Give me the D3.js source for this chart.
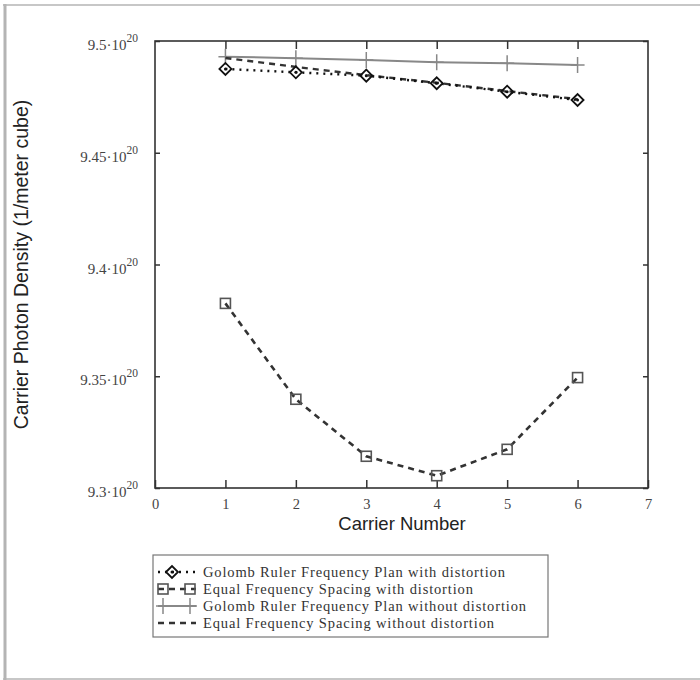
<!DOCTYPE html>
<html>
<head>
<meta charset="utf-8">
<script src="https://cdn.jsdelivr.net/npm/d3@7"></script>
<style>
  html, body { margin: 0; padding: 0; background: #fff; }
  svg { display: block; }
</style>
</head>
<body>
<svg id="chart" width="700" height="680"></svg>
<script>
// Carrier index on the x axis
const carriers = [1, 2, 3, 4, 5, 6];

// Photon density, in units of 10^20 per cubic meter
const golombWithDistortion = [9.4875, 9.4860, 9.4845, 9.4811, 9.4773, 9.4736];
const equalWithDistortion = [9.3826, 9.3397, 9.3142, 9.3055, 9.3173, 9.3494];
const golombWithoutDistortion = [9.4930, 9.4923, 9.4915, 9.4905, 9.4900, 9.4893];
const equalWithoutDistortion = [9.4924, 9.4884, 9.4847, 9.4813, 9.4776, 9.4740];

// Axis ticks
const xTicks = [0, 1, 2, 3, 4, 5, 6, 7];
const yTicks = [9.3, 9.35, 9.4, 9.45, 9.5];
const yTickText = ["9.3", "9.35", "9.4", "9.45", "9.5"];

const legendLabels = [
  "Golomb Ruler Frequency Plan with distortion",
  "Equal Frequency Spacing with distortion",
  "Golomb Ruler Frequency Plan without distortion",
  "Equal Frequency Spacing without distortion"
];

const svg = d3.select("#chart");

// outer frame (top, left, bottom edges)
const frameGray = "#b4b4b4";
svg.append("line").attr("x1", 3).attr("x2", 700).attr("y1", 5).attr("y2", 5)
  .attr("stroke", frameGray).attr("stroke-width", 1.5);
svg.append("line").attr("x1", 5).attr("x2", 5).attr("y1", 4).attr("y2", 680)
  .attr("stroke", frameGray).attr("stroke-width", 3);
svg.append("line").attr("x1", 3).attr("x2", 700).attr("y1", 679).attr("y2", 679)
  .attr("stroke", frameGray).attr("stroke-width", 1.5);

const plot = { left: 155, right: 648, top: 41, bottom: 488 };

const x = d3.scaleLinear().domain([0, 7]).range([plot.left, plot.right]);
const y = d3.scaleLinear().domain([9.3, 9.5]).range([plot.bottom, plot.top]);

const frameColor = "#333";
const serif = "'Liberation Serif', 'Times New Roman', serif";
const sans = "'Liberation Sans', Arial, sans-serif";

// ticks on all four sides, pointing inward
const gBottom = svg.append("g").attr("transform", `translate(0,${plot.bottom})`)
  .call(d3.axisBottom(x).tickValues(xTicks).tickFormat(d3.format("d"))
    .tickSizeInner(-8).tickSizeOuter(0).tickPadding(11));
const gTop = svg.append("g").attr("transform", `translate(0,${plot.top})`)
  .call(d3.axisTop(x).tickValues(xTicks.slice(1, -1)).tickSizeInner(-8).tickSizeOuter(0).tickFormat(""));
const gLeft = svg.append("g").attr("transform", `translate(${plot.left},0)`)
  .call(d3.axisLeft(y).tickValues(yTicks).tickSizeInner(-5).tickSizeOuter(0).tickFormat(""));
const gRight = svg.append("g").attr("transform", `translate(${plot.right},0)`)
  .call(d3.axisRight(y).tickValues(yTicks).tickSizeInner(-5).tickSizeOuter(0).tickFormat(""));

[gBottom, gTop, gLeft, gRight].forEach(g => {
  g.select(".domain").remove();
  g.selectAll(".tick line").attr("stroke", frameColor).attr("stroke-width", 1.5);
});
gBottom.selectAll(".tick text")
  .attr("font-family", serif).attr("font-size", 14.5).attr("fill", "#444");

// plot box
svg.append("rect")
  .attr("x", plot.left).attr("y", plot.top)
  .attr("width", plot.right - plot.left).attr("height", plot.bottom - plot.top)
  .attr("fill", "none").attr("stroke", frameColor).attr("stroke-width", 1.6);

// y tick labels written as mantissa·10^20
const yLab = svg.append("g");
yTicks.forEach((v, i) => {
  const t = yLab.append("text")
    .attr("x", 138).attr("y", y(v) + 9)
    .attr("text-anchor", "end")
    .attr("font-family", serif).attr("font-size", 15).attr("fill", "#444");
  t.append("tspan").text(yTickText[i] + "\u00B710");
  t.append("tspan").attr("dy", -8).attr("font-size", 11.5).text("20");
});

// axis titles
svg.append("text").attr("x", 402).attr("y", 530).attr("text-anchor", "middle")
  .attr("font-family", sans).attr("font-size", 18.5).attr("fill", "#222").text("Carrier Number");
svg.append("text")
  .attr("transform", `translate(28,${(plot.top + plot.bottom) / 2}) rotate(-90)`)
  .attr("text-anchor", "middle")
  .attr("font-family", sans).attr("font-size", 19.5).attr("fill", "#222")
  .text("Carrier Photon Density (1/meter cube)");

const line = d3.line().x(d => x(d[0])).y(d => y(d[1]));
const pts = vals => carriers.map((c, i) => [c, vals[i]]);

// series styles
const styles = [
  { vals: golombWithDistortion, stroke: "#111", width: 2.4, dash: "2,5", marker: "diamond" },
  { vals: equalWithDistortion, stroke: "#333", width: 2.6, dash: "6,5", marker: "square" },
  { vals: golombWithoutDistortion, stroke: "#888", width: 2, dash: null, marker: "plus" },
  { vals: equalWithoutDistortion, stroke: "#333", width: 2.4, dash: "6,5", marker: null }
];

function drawMarker(g, type, cx, cy) {
  if (type === "diamond") {
    g.append("path")
      .attr("d", `M${cx - 6},${cy} L${cx},${cy - 6} L${cx + 6},${cy} L${cx},${cy + 6} Z`)
      .attr("fill", "none").attr("stroke", "#111").attr("stroke-width", 1.8);
    g.append("circle").attr("cx", cx).attr("cy", cy).attr("r", 1.5).attr("fill", "#111");
  } else if (type === "square") {
    g.append("rect").attr("x", cx - 5).attr("y", cy - 5).attr("width", 10).attr("height", 10)
      .attr("fill", "none").attr("stroke", "#555").attr("stroke-width", 1.6);
  } else if (type === "plus") {
    g.append("path")
      .attr("d", `M${cx - 7},${cy} L${cx + 7},${cy} M${cx},${cy - 8} L${cx},${cy + 8}`)
      .attr("stroke", "#888").attr("stroke-width", 1.5);
  }
}

// draw order: solid gray first, dashed lines over it
[2, 3, 1, 0].forEach(k => {
  const s = styles[k];
  const g = svg.append("g");
  g.append("path").datum(pts(s.vals)).attr("d", line)
    .attr("fill", "none").attr("stroke", s.stroke).attr("stroke-width", s.width)
    .attr("stroke-dasharray", s.dash);
  if (s.marker) pts(s.vals).forEach(p => drawMarker(g, s.marker, x(p[0]), y(p[1])));
});

// legend
const lg = svg.append("g");
lg.append("rect").attr("x", 153).attr("y", 555).attr("width", 395).attr("height", 82)
  .attr("fill", "#fff").attr("stroke", "#777").attr("stroke-width", 1.2);
legendLabels.forEach((lab, i) => {
  const cy = 572 + i * 17;
  const s = styles[i];
  const row = lg.append("g");
  row.append("line").attr("x1", 158).attr("x2", 196).attr("y1", cy).attr("y2", cy)
    .attr("stroke", s.stroke).attr("stroke-width", s.width).attr("stroke-dasharray", s.dash);
  if (s.marker === "diamond") drawMarker(row, "diamond", 172, cy);
  else if (s.marker === "square") { drawMarker(row, "square", 163, cy); drawMarker(row, "square", 190, cy); }
  else if (s.marker === "plus") { drawMarker(row, "plus", 163, cy); drawMarker(row, "plus", 190, cy); }
  row.append("text").attr("x", 203).attr("y", cy + 5)
    .attr("font-family", serif).attr("font-size", 14.5).attr("letter-spacing", 0.85)
    .attr("fill", "#333").text(lab);
});
</script>
</body>
</html>
